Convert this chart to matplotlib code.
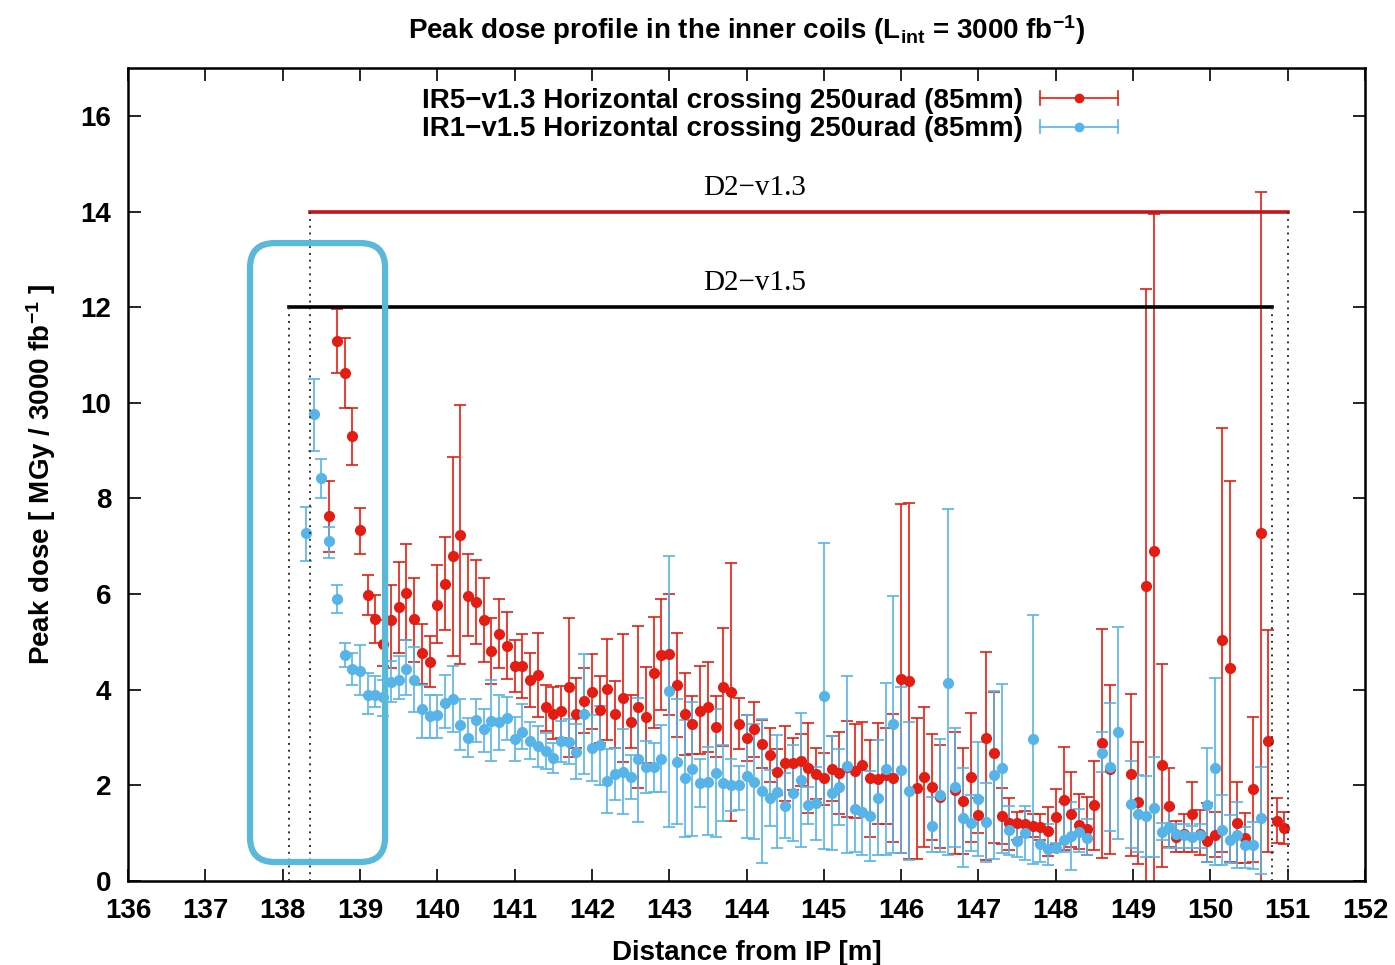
"""
Peak dose profile in the D2 inner coils, IR5-v1.3 vs IR1-v1.5.
"""

import matplotlib
matplotlib.use("Agg")
import matplotlib.pyplot as plt
from matplotlib.lines import Line2D
from matplotlib.legend_handler import HandlerBase
from matplotlib.patches import FancyBboxPatch

plt.rcParams["font.family"] = ["Liberation Sans", "DejaVu Sans"]
plt.rcParams["font.weight"] = "bold"
plt.rcParams["mathtext.fontset"] = "custom"
plt.rcParams["mathtext.rm"] = "Liberation Sans:bold"
plt.rcParams["mathtext.it"] = "Liberation Sans:bold"
plt.rcParams["mathtext.bf"] = "Liberation Sans:bold"

# IR5-v1.3 (red): position [m], dose, lower / upper end of error bar [MGy]
ir5_x = [138.6, 138.7, 138.8, 138.9, 139.0, 139.1, 139.2, 139.3, 139.4, 139.5,
         139.6, 139.7, 139.8, 139.9, 140.0, 140.1, 140.2, 140.3, 140.4, 140.5,
         140.6, 140.7, 140.8, 140.9, 141.0, 141.1, 141.2, 141.3, 141.4, 141.5,
         141.6, 141.7, 141.8, 141.9, 142.0, 142.1, 142.2, 142.3, 142.4, 142.5,
         142.6, 142.7, 142.8, 142.9, 143.0, 143.1, 143.2, 143.3, 143.4, 143.5,
         143.6, 143.7, 143.8, 143.9, 144.0, 144.1, 144.2, 144.3, 144.4, 144.5,
         144.6, 144.7, 144.8, 144.9, 145.0, 145.1, 145.2, 145.3, 145.4, 145.5,
         145.6, 145.7, 145.8, 145.9, 146.0, 146.1, 146.2, 146.3, 146.4, 146.5,
         146.7, 146.8, 146.9, 147.0, 147.1, 147.2, 147.3, 147.4, 147.5, 147.6,
         147.7, 147.8, 147.9, 148.0, 148.1, 148.2, 148.3, 148.4, 148.5, 148.6,
         148.7, 148.97, 149.07, 149.17, 149.27, 149.37, 149.47, 149.56, 149.66,
         149.76, 149.86, 149.96, 150.06, 150.15, 150.25, 150.35, 150.45, 150.55,
         150.65, 150.75, 150.86, 150.95]
ir5_y = [7.64, 11.29, 10.63, 9.31, 7.33, 5.99, 5.47, 4.95, 5.45, 5.73,
         6.02, 5.47, 4.76, 4.59, 5.78, 6.22, 6.80, 7.24, 5.97, 5.83,
         5.45, 4.82, 5.16, 4.91, 4.50, 4.49, 4.20, 4.30, 3.63, 3.50,
         3.55, 4.05, 3.50, 3.76, 3.95, 3.57, 4.01, 3.49, 3.82, 3.32,
         3.63, 3.44, 4.36, 4.72, 4.74, 4.09, 3.49, 3.28, 3.55, 3.63,
         3.22, 4.05, 3.95, 3.28, 2.99, 3.17, 2.86, 2.63, 2.28, 2.46,
         2.46, 2.51, 2.36, 2.24, 2.15, 2.34, 2.25, 2.38, 2.30, 2.42,
         2.15, 2.13, 2.21, 2.15, 4.22, 4.18, 1.94, 2.17, 1.96, 1.75,
         1.90, 1.67, 2.17, 1.38, 2.99, 2.67, 1.36, 1.21, 1.21, 1.19,
         1.15, 1.13, 1.04, 1.34, 1.69, 1.41, 1.17, 1.09, 1.59, 2.88,
         2.34, 2.23, 1.65, 6.16, 6.91, 2.42, 1.57, 0.92, 0.99,
         1.40, 0.98, 0.84, 0.96, 5.05, 4.45, 1.21, 0.90, 1.92,
         7.27, 2.92, 1.25, 1.10]
ir5_lo = [6.88, 10.62, 9.90, 8.70, 6.83, 5.57, 4.97, 4.50, 4.45, 4.76,
          5.03, 4.59, 4.13, 4.05, 4.97, 5.24, 4.70, 4.53, 5.12, 4.95,
          4.57, 4.13, 4.45, 4.22, 3.95, 3.82, 3.63, 3.42, 3.13, 2.96,
          3.00, 2.59, 2.78, 3.10, 3.17, 2.88, 2.94, 2.78, 2.48, 2.78,
          1.94, 2.46, 3.21, 3.57, 3.47, 3.01, 2.63, 2.65, 2.65, 2.69,
          2.59, 2.82, 1.25, 2.76, 2.51, 2.59, 2.36, 2.07, 1.80, 1.67,
          1.90, 1.98, 1.42, 1.71, 1.59, 1.67, 1.40, 1.34, 1.32, 1.40,
          0.92, 1.19, 1.19, 0.81, 0.58, 0.46, 0.46, 0.71, 0.86, 0.70,
          0.56, 0.56, 0.81, 1.00, 0.44, 0.79, 0.77, 0.65, 0.86, 0.92,
          0.92, 0.86, 0.52, 0.77, 0.65, 0.72, 0.67, 0.55, 0.65, 0.48,
          0.56, 0.52, 0.35, -1.0, -1.0, 0.29, 0.71, 0.60, 0.60,
          0.60, 0.55, 0.40, 0.50, 0.61, 0.40, 0.37, 0.37, 0.40,
          -1.0, 0.61, 0.79, 0.77]
ir5_hi = [8.37, 11.96, 11.36, 9.90, 7.80, 6.40, 5.99, 5.45, 6.18, 6.68,
          7.04, 6.33, 5.37, 5.12, 6.60, 7.20, 8.87, 9.96, 6.83, 6.72,
          6.33, 5.51, 5.89, 5.62, 5.05, 5.16, 4.76, 5.18, 4.10, 4.05,
          4.08, 5.51, 4.24, 4.45, 4.74, 4.28, 5.07, 4.18, 5.16, 3.88,
          5.34, 4.47, 5.53, 5.89, 6.01, 5.18, 4.34, 3.86, 4.49, 4.57,
          3.86, 5.30, 6.64, 3.82, 3.47, 3.74, 3.36, 3.21, 2.76, 3.24,
          2.99, 3.07, 3.30, 2.78, 2.67, 3.03, 3.11, 3.34, 3.28, 3.32,
          2.94, 3.30, 3.21, 3.49, 7.89, 7.91, 3.40, 3.63, 3.07, 2.85,
          3.11, 2.78, 3.51, 1.73, 4.78, 3.95, 1.94, 1.73, 1.44, 1.46,
          1.40, 1.40, 1.54, 1.92, 2.80, 2.28, 1.82, 1.75, 2.51, 5.28,
          4.09, 3.92, 2.90, 12.38, 13.95, 4.53, 2.36, 1.25, 1.40,
          2.07, 1.48, 1.63, 1.45, 9.48, 8.37, 2.07, 1.42, 3.44,
          14.40, 5.24, 1.73, 1.44]

# IR1-v1.5 (blue)
ir1_x = [138.3, 138.4, 138.5, 138.6, 138.7, 138.8, 138.9, 139.0, 139.1, 139.2,
         139.3, 139.4, 139.5, 139.6, 139.7, 139.8, 139.9, 140.0, 140.1, 140.2,
         140.3, 140.4, 140.5, 140.6, 140.7, 140.8, 140.9, 141.0, 141.1, 141.2,
         141.3, 141.4, 141.5, 141.6, 141.7, 141.8, 141.9, 142.0, 142.1, 142.2,
         142.3, 142.4, 142.5, 142.6, 142.7, 142.8, 142.9, 143.0, 143.1, 143.2,
         143.3, 143.4, 143.5, 143.6, 143.7, 143.8, 143.9, 144.0, 144.1, 144.2,
         144.3, 144.4, 144.5, 144.6, 144.7, 144.8, 144.9, 145.0, 145.1, 145.2,
         145.3, 145.4, 145.5, 145.6, 145.7, 145.8, 145.9, 146.0, 146.1, 146.4,
         146.5, 146.6, 146.7, 146.8, 146.9, 147.0, 147.1, 147.2, 147.3, 147.4,
         147.5, 147.6, 147.7, 147.8, 147.9, 148.0, 148.1, 148.2, 148.3, 148.4,
         148.6, 148.7, 148.8, 148.97, 149.07, 149.17, 149.27, 149.37, 149.47,
         149.56, 149.66, 149.76, 149.86, 149.96, 150.06, 150.15, 150.25, 150.35,
         150.45, 150.55, 150.65]
ir1_y = [7.27, 9.77, 8.42, 7.10, 5.89, 4.72, 4.43, 4.40, 3.90, 3.90,
         3.84, 4.16, 4.21, 4.44, 4.21, 3.59, 3.46, 3.47, 3.73, 3.80,
         3.26, 3.00, 3.36, 3.17, 3.34, 3.33, 3.40, 2.97, 3.11, 2.92,
         2.82, 2.71, 2.57, 2.92, 2.90, 2.69, 3.49, 2.78, 2.84, 2.09,
         2.23, 2.28, 2.17, 2.55, 2.38, 2.38, 2.55, 3.97, 2.48, 2.15,
         2.34, 2.05, 2.07, 2.25, 2.05, 2.00, 2.00, 2.19, 2.07, 1.88,
         1.73, 1.86, 1.57, 1.84, 2.11, 1.59, 1.63, 3.86, 1.84, 1.96,
         2.41, 1.50, 1.44, 1.36, 1.73, 2.34, 3.28, 2.32, 1.88, 1.15,
         1.80, 4.15, 1.97, 1.32, 1.21, 1.71, 1.23, 2.21, 2.36, 1.06,
         0.84, 1.00, 2.96, 0.77, 0.67, 0.69, 0.86, 0.94, 1.02, 0.90,
         2.67, 2.38, 3.11, 1.61, 1.40, 1.36, 1.52, 1.02, 1.13,
         0.99, 0.96, 0.92, 0.96, 1.59, 2.36, 1.06, 0.86, 0.96,
         0.75, 0.75, 1.32]
ir1_lo = [6.70, 9.00, 8.00, 6.76, 5.60, 4.48, 4.10, 3.88, 3.49, 3.63,
          3.45, 3.75, 3.80, 3.88, 3.53, 3.00, 3.00, 3.00, 3.20, 3.11,
          2.75, 2.60, 2.90, 2.70, 2.50, 2.75, 2.95, 2.50, 2.76, 2.55,
          2.38, 2.34, 2.25, 2.48, 2.45, 2.13, 2.23, 2.09, 2.00, 1.42,
          1.69, 1.40, 1.71, 1.23, 1.84, 1.86, 1.86, 1.13, 1.19, 0.92,
          0.94, 1.54, 0.96, 0.92, 1.25, 1.46, 1.48, 0.90, 0.88, 0.38,
          1.15, 0.69, 0.90, 0.84, 0.71, 1.19, 0.86, 0.67, 0.65, 1.17,
          0.58, 0.61, 0.54, 0.42, 0.54, 0.54, 0.58, 0.58, 0.44, 0.61,
          0.61, 0.54, 0.71, 0.29, 0.63, 0.52, 0.40, 0.46, 0.58, 0.54,
          0.50, 0.44, 0.35, 0.40, 0.33, 0.60, 0.60, 0.23, 0.60, 0.55,
          2.28, 1.04, 0.88, 0.69, 0.60, 0.50, 0.50, 0.85, 0.70,
          0.70, 0.70, 0.70, 0.70, 0.40, 0.33, 0.33, 0.37, 0.27,
          0.27, 0.25, 0.15]
ir1_hi = [7.83, 10.50, 8.82, 7.40, 6.20, 4.97, 4.77, 4.93, 4.34, 4.28,
          4.20, 4.60, 4.70, 5.03, 4.89, 4.10, 3.90, 3.90, 4.30, 4.49,
          3.80, 3.40, 3.80, 3.60, 4.20, 3.90, 3.85, 3.42, 3.70, 3.32,
          3.25, 3.09, 2.88, 3.34, 3.38, 3.28, 4.74, 3.47, 3.67, 2.76,
          2.78, 3.17, 2.63, 3.82, 2.92, 2.88, 3.26, 6.80, 3.80, 3.36,
          3.74, 2.56, 2.80, 3.59, 2.85, 2.55, 2.40, 3.47, 3.28, 3.38,
          2.32, 3.05, 2.25, 2.84, 3.51, 1.96, 2.38, 7.06, 3.03, 2.76,
          4.28, 2.38, 2.32, 2.30, 2.94, 4.15, 5.97, 4.05, 3.32, 1.75,
          2.96, 7.77, 3.21, 2.36, 1.80, 2.90, 2.05, 3.97, 4.11, 1.57,
          1.17, 1.57, 5.57, 1.19, 1.19, 0.79, 1.65, 1.65, 1.50, 1.30,
          3.11, 3.72, 5.32, 2.51, 2.21, 2.20, 2.59, 1.21, 1.52,
          1.20, 1.20, 1.15, 1.20, 2.78, 4.24, 1.80, 1.38, 1.65,
          1.13, 1.23, 2.38]

# D2 magnet extents: (start, end, level)
d2_v13 = (138.35, 151.0, 14.0)
d2_v15 = (138.08, 150.8, 12.0)

RED = "#e41c12"
BLUE = "#56b4e9"
FS = 20


class GnuplotErrHandler(HandlerBase):
    # key sample drawn the gnuplot way: bar with end caps and a dot
    def create_artists(self, legend, orig_handle, xdescent, ydescent,
                       width, height, fontsize, trans):
        c = orig_handle.get_color()
        y = height / 2 - ydescent
        x0, x1 = -xdescent, -xdescent + width
        cap = height * 0.35
        arts = [
            Line2D([x0, x1], [y, y], color=c, lw=1.2),
            Line2D([x0, x0], [y - cap, y + cap], color=c, lw=1.2),
            Line2D([x1, x1], [y - cap, y + cap], color=c, lw=1.2),
            Line2D([(x0 + x1) / 2], [y], color=c, marker="o", ms=6, ls="none"),
        ]
        for a in arts:
            a.set_transform(trans)
        return arts


fig = plt.figure(figsize=(13.95, 9.65), dpi=100)
ax = fig.add_axes([0.0918, 0.087, 0.8867, 0.8425])

for xs, ys, lo, hi, col in [(ir5_x, ir5_y, ir5_lo, ir5_hi, RED),
                            (ir1_x, ir1_y, ir1_lo, ir1_hi, BLUE)]:
    yerr = [[y - l for y, l in zip(ys, lo)], [h - y for y, h in zip(ys, hi)]]
    ax.errorbar(xs, ys, yerr=yerr, fmt="o", color=col, ms=7, mec=col,
                elinewidth=1.2, capsize=4, capthick=1.2, zorder=2)

for (x0, x1, lev), col, name in [(d2_v13, "#c0161c", "D2\u2212v1.3"),
                                 (d2_v15, "black", "D2\u2212v1.5")]:
    ax.plot([x0, x1], [lev, lev], color=col, lw=2.6, zorder=3)
    for xv in (x0, x1):
        ax.plot([xv, xv], [0, lev], color="#333333", lw=1.4, ls=(0, (1, 2.5)), zorder=3)
    ax.text(144.1, lev + 0.5, name, ha="center", va="center", fontsize=21,
            family="Liberation Serif", fontweight="normal", zorder=4)

box = FancyBboxPatch((0.0986, 0.0234), 0.1092, 0.7613, transform=ax.transAxes,
                     boxstyle="round,pad=0,rounding_size=0.02", mutation_aspect=1237 / 813,
                     fill=False, ec="#5ab8d8", lw=4.5, zorder=5, clip_on=False)
ax.add_patch(box)

ax.set_xlim(136, 152)
ax.set_ylim(0, 17)
ax.set_xticks(range(136, 153))
ax.set_yticks(range(0, 17, 2))
ax.tick_params(direction="in", length=9, width=1.2, top=True, right=True,
               labelsize=FS, pad=12)
for s in ax.spines.values():
    s.set_linewidth(1.8)

ax.set_xlabel("Distance from IP [m]", fontsize=FS, fontweight="bold", labelpad=12)
ax.set_ylabel("Peak dose [ MGy / 3000 fb$^{-1}$ ]", fontsize=FS, fontweight="bold", labelpad=16)
ax.set_title("Peak dose profile in the inner coils (L$_{int}$ = 3000 fb$^{-1}$)",
             fontsize=FS, fontweight="bold", pad=21)

h_red = Line2D([], [], color=RED)
h_blue = Line2D([], [], color=BLUE)
ax.legend([h_red, h_blue],
          ["IR5\u2212v1.3 Horizontal crossing 250urad (85mm)",
           "IR1\u2212v1.5 Horizontal crossing 250urad (85mm)"],
          handler_map={h_red: GnuplotErrHandler(), h_blue: GnuplotErrHandler()},
          loc="upper right", bbox_to_anchor=(0.80, 0.976), frameon=False,
          markerfirst=False, handlelength=2.8, handletextpad=0.6,
          labelspacing=0.1, borderaxespad=0, borderpad=0,
          prop={"size": FS, "weight": "bold"})

fig.savefig("out.png", dpi=100)
